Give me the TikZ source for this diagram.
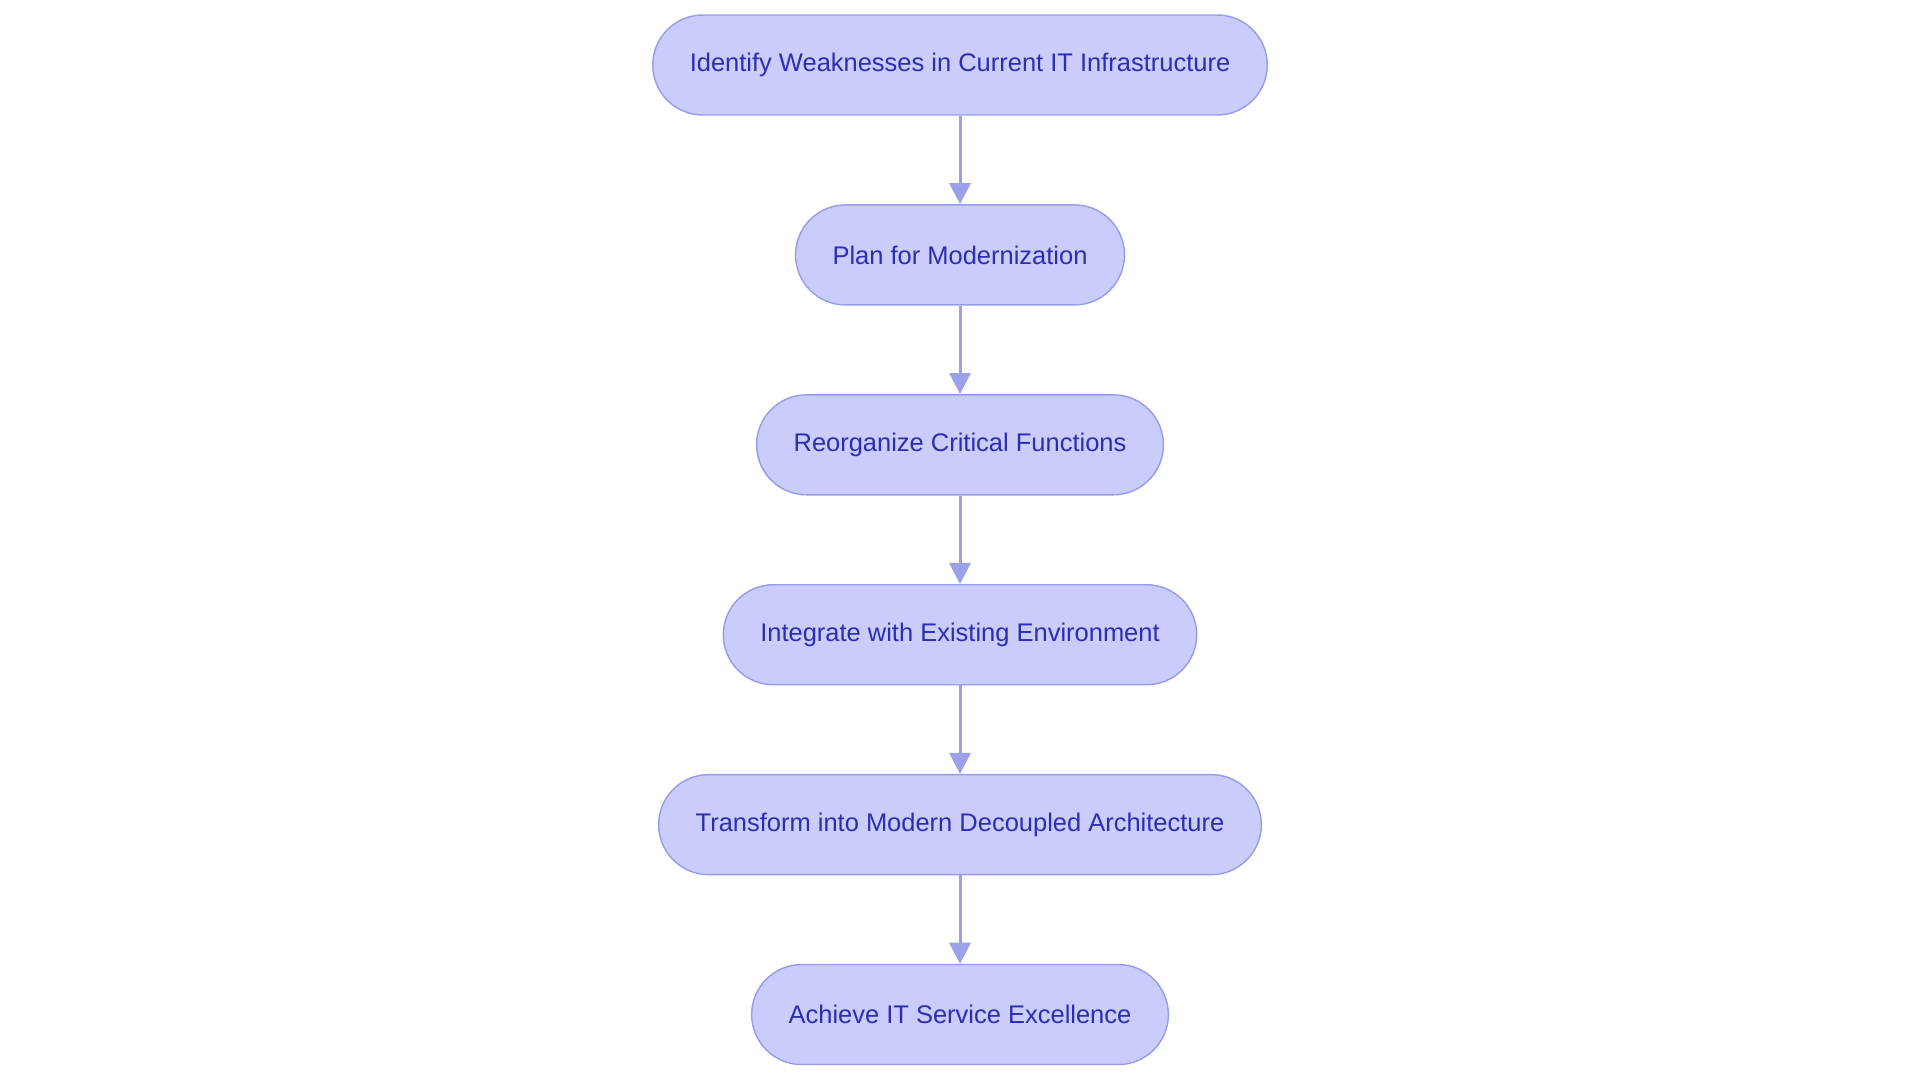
\documentclass[tikz,border=0pt]{standalone}
\usepackage{fontspec}
\setmainfont{Liberation Sans}
\usetikzlibrary{positioning}
\usetikzlibrary{arrows.meta}
\definecolor{boxfill}{RGB}{202,204,252}
\definecolor{boxline}{RGB}{150,155,235}
\definecolor{boxtext}{RGB}{45,45,180}
\definecolor{arrowcol}{RGB}{155,160,235}

\begin{document}
\begin{tikzpicture}[align=center,snode/.style={rectangle,rounded corners=1cm,draw=boxline,fill=boxfill,line width=0.8pt,minimum height=2cm,inner xsep=0.74cm,text=boxtext,font=\fontsize{14.5}{17}\selectfont}, node distance = 1.77cm, >={Triangle[length=12pt,width=12pt]}]
		\useasboundingbox (0,0) rectangle (38.4,-21.6);
		\node[snode] (weak) at (19.2,-1.3){Identify Weaknesses in Current IT Infrastructure};
		\node[snode] (plan)[below = of weak]{Plan for Modernization};
		\node[snode] (reorg)[below = of plan]{Reorganize Critical Functions};
		\node[snode] (integ)[below = of reorg]{Integrate with Existing Environment};
		\node[snode] (trans)[below = of integ]{Transform into Modern Decoupled Architecture};
		\node[snode] (excel)[below = of trans]{Achieve IT Service Excellence};
		\draw[line width=1.7pt,draw=arrowcol,fill=arrowcol,->] (weak) -- (plan);
		\draw[line width=1.7pt,draw=arrowcol,fill=arrowcol,->] (plan) -- (reorg);
		\draw[line width=1.7pt,draw=arrowcol,fill=arrowcol,->] (reorg) -- (integ);
		\draw[line width=1.7pt,draw=arrowcol,fill=arrowcol,->] (integ) -- (trans);
		\draw[line width=1.7pt,draw=arrowcol,fill=arrowcol,->] (trans) -- (excel);
	\end{tikzpicture}
\end{document}
